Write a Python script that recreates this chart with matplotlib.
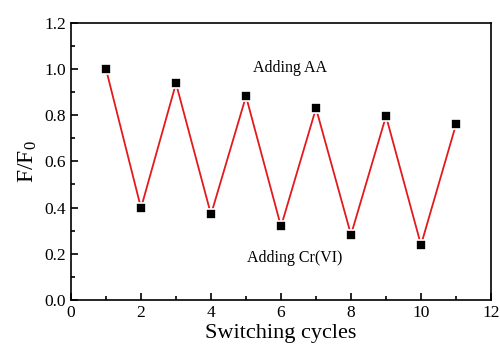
import numpy as np
import matplotlib.pyplot as plt
from matplotlib.ticker import MultipleLocator

plt.rcParams['font.family'] = ['Liberation Serif', 'DejaVu Serif']
plt.rcParams['mathtext.fontset'] = 'custom'
plt.rcParams['mathtext.rm'] = 'Liberation Serif'
plt.rcParams['mathtext.it'] = 'Liberation Serif:italic'

cycles = [1, 2, 3, 4, 5, 6, 7, 8, 9, 10, 11]
ratio = [1.0, 0.398, 0.938, 0.370, 0.882, 0.318, 0.830, 0.282, 0.796, 0.238, 0.760]

fig = plt.figure(figsize=(5, 3.52), dpi=100)
ax = fig.add_axes([0.142, 0.148, 0.840, 0.787])

ax.plot(cycles, ratio, color='#e31a1c', lw=1.3, zorder=2)
ax.plot(cycles, ratio, 's', color='black', ms=7, mec='white', mew=1.2, zorder=3)

ax.text(6.25, 1.005, 'Adding AA', fontsize=11.5, ha='center', va='center')
ax.text(6.4, 0.18, 'Adding Cr(VI)', fontsize=11.5, ha='center', va='center')

ax.set_xlim(0, 12)
ax.set_ylim(0, 1.2)
ax.xaxis.set_major_locator(MultipleLocator(2))
ax.xaxis.set_minor_locator(MultipleLocator(1))
ax.yaxis.set_major_locator(MultipleLocator(0.2))
ax.yaxis.set_minor_locator(MultipleLocator(0.1))
ax.yaxis.set_major_formatter(plt.FuncFormatter(lambda v, p: f'{v:.1f}'))
ax.tick_params(which='both', direction='in', top=False, right=False, labelsize=12.5, width=1.2)
ax.tick_params(which='major', length=5)
ax.tick_params(which='minor', length=3)
for s in ax.spines.values():
    s.set_linewidth(1.2)

ax.set_xlabel('Switching cycles', fontsize=16, labelpad=2)
ax.set_ylabel(r'$\mathrm{F/F_0}$', fontsize=17)

fig.savefig('out.png', dpi=100)
